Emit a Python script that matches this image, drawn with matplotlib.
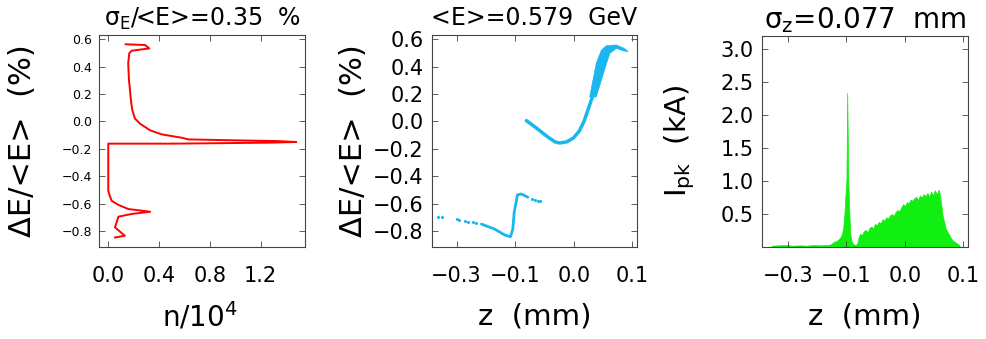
import matplotlib
matplotlib.use('Agg')
import matplotlib.pyplot as plt

plt.rcParams['mathtext.default'] = 'regular'

# energy spectrum (red): n/1e4 vs dE/<E> (%)
n_spec = [0.137, 0.289, 0.323, 0.184, 0.165, 0.157, 0.160, 0.163, 0.170, 0.176, 0.183, 0.19, 0.21,
          0.25, 0.33, 0.42, 0.58, 0.63, 1.0, 1.33, 1.48, 1.26, 0.51, 0.0, 0.0, 0.01, 0.027, 0.08,
          0.157, 0.33, 0.184, 0.08, 0.066, 0.053, 0.13, 0.053]
de_spec = [0.562, 0.557, 0.532, 0.515, 0.496, 0.423, 0.36, 0.30, 0.24, 0.178, 0.12, 0.08, 0.02,
           -0.017, -0.066, -0.095, -0.12, -0.132, -0.139, -0.144, -0.151, -0.156, -0.163, -0.163,
           -0.505, -0.54, -0.58, -0.61, -0.64, -0.66, -0.676, -0.696, -0.737, -0.774, -0.835, -0.848]

# longitudinal phase space (blue)
z_up = [-0.101, -0.085, -0.07, -0.055, -0.04, -0.03, -0.015, 0.0, 0.012, 0.022, 0.032, 0.040, 0.048]
de_up = [0.005, -0.035, -0.075, -0.115, -0.15, -0.158, -0.15, -0.12, -0.07, 0.0, 0.1, 0.18, 0.3]
z_band = [0.034, 0.041, 0.048, 0.059, 0.070, 0.091, 0.108, 0.116, 0.105, 0.091, 0.077, 0.070, 0.059, 0.048]
de_band = [0.178, 0.30, 0.423, 0.52, 0.552, 0.557, 0.532, 0.508, 0.515, 0.532, 0.496, 0.423, 0.30, 0.178]
z_low = [-0.197, -0.169, -0.147, -0.135, -0.13, -0.127, -0.12, -0.112, -0.098]
de_low = [-0.75, -0.786, -0.83, -0.842, -0.786, -0.664, -0.537, -0.53, -0.554]
z_dots = [-0.29, -0.282, -0.25, -0.245, -0.232, -0.226, -0.215, -0.208, -0.09, -0.083, -0.077, -0.073]
de_dots = [-0.70, -0.698, -0.712, -0.72, -0.728, -0.733, -0.735, -0.742, -0.565, -0.572, -0.578, -0.584]

# current profile (green)
z_cur = [-0.285, -0.27, -0.255, -0.24, -0.225, -0.21, -0.195, -0.18, -0.165, -0.158, -0.152, -0.146,
         -0.140, -0.136, -0.132, -0.129, -0.127, -0.125, -0.1235, -0.1225, -0.121, -0.119, -0.117,
         -0.114, -0.110, -0.106, -0.102, -0.099, -0.096, -0.092, -0.088, -0.084, -0.080, -0.076,
         -0.072, -0.068, -0.064, -0.060, -0.056, -0.052, -0.048, -0.044, -0.040, -0.036, -0.032,
         -0.028, -0.024, -0.020, -0.016, -0.012, -0.008, -0.004, 0.000, 0.004, 0.008, 0.012, 0.016,
         0.020, 0.024, 0.028, 0.032, 0.036, 0.040, 0.044, 0.048, 0.052, 0.056, 0.060, 0.064, 0.068,
         0.072, 0.075, 0.078, 0.081, 0.084, 0.087, 0.090, 0.094, 0.098, 0.102, 0.106, 0.110, 0.114, 0.117]
i_cur = [0.02, 0.025, 0.03, 0.02, 0.025, 0.02, 0.03, 0.025, 0.03, 0.04, 0.08, 0.09,
         0.13, 0.17, 0.28, 0.55, 0.80, 1.05, 2.34, 1.8, 0.95, 0.55, 0.20,
         0.08, 0.04, 0.03, 0.05, 0.15, 0.20, 0.18, 0.24, 0.26, 0.22, 0.29,
         0.31, 0.28, 0.35, 0.33, 0.38, 0.36, 0.42, 0.40, 0.45, 0.43, 0.48,
         0.50, 0.47, 0.53, 0.56, 0.54, 0.60, 0.65, 0.62, 0.68, 0.66, 0.72, 0.70,
         0.74, 0.76, 0.71, 0.78, 0.75, 0.80, 0.77, 0.82, 0.76, 0.84, 0.78, 0.86, 0.80,
         0.87, 0.78, 0.62, 0.45, 0.38, 0.28, 0.24, 0.19, 0.14, 0.10, 0.08, 0.06, 0.04, 0.02]

z_ticks = [-0.25, -0.125, 0.0, 0.125]
z_ticklabels = ['−0.3', '−0.1', '0.0', '0.1']

fig = plt.figure(figsize=(9.87, 3.39), dpi=100)
ax1 = fig.add_axes([0.1003, 0.2723, 0.2087, 0.6245])
ax2 = fig.add_axes([0.4374, 0.2723, 0.2080, 0.6245])
ax3 = fig.add_axes([0.7723, 0.2714, 0.2081, 0.6224])

blue = '#1ab6f0'

ax1.plot(n_spec, de_spec, color='red', lw=1.4)
ax1.set_xlim(-0.073, 1.549)
ax1.set_ylim(-0.915, 0.63)
ax1.set_xticks([0.0, 0.4, 0.8, 1.2])
ax1.set_yticks([-0.8, -0.6, -0.4, -0.2, 0.0, 0.2, 0.4, 0.6])
ax1.tick_params(axis='y', labelsize=9, pad=5)
ax1.tick_params(axis='x', labelsize=15, pad=14)

ax2.fill(z_band, de_band, color=blue, lw=0.5)
ax2.plot(z_up, de_up, color=blue, lw=2.5, solid_capstyle='round')
ax2.plot(z_low, de_low, color=blue, lw=2.0, solid_capstyle='round')
ax2.scatter(z_dots, de_dots, color=blue, s=1.5)
ax2.set_xlim(-0.303, 0.135)
ax2.set_ylim(-0.915, 0.63)
ax2.set_yticks([-0.8, -0.6, -0.4, -0.2, 0.0, 0.2, 0.4, 0.6])
ax2.tick_params(axis='y', labelsize=15, pad=6)

ax3.fill_between(z_cur, i_cur, 0, color='#11ee11', lw=0.5)
ax3.set_xlim(-0.305, 0.134)
ax3.set_ylim(0, 3.2)
ax3.set_yticks([0.5, 1.0, 1.5, 2.0, 2.5, 3.0])
ax3.tick_params(axis='y', labelsize=15, pad=6)

for ax in (ax2, ax3):
    ax.set_xticks(z_ticks)
    ax.set_xticklabels(z_ticklabels)
    ax.tick_params(axis='x', labelsize=15, pad=14)
    ax.set_xlabel('z  (mm)', fontsize=21, va='center')
    ax.xaxis.set_label_coords(0.5, -0.33)

for ax in (ax1, ax2, ax3):
    ax.tick_params(direction='in', top=True, right=True, length=4, width=0.6, color='#444444')
    for s in ax.spines.values():
        s.set_linewidth(0.8)
        s.set_color('#444444')

ax1.set_xlabel('n/10$^{4}$', fontsize=20, va='center')
ax1.xaxis.set_label_coords(0.49, -0.33)
ax1.set_ylabel('ΔE/<E>  (%)', fontsize=22, va='center')
ax1.yaxis.set_label_coords(-0.369, 0.5)
ax2.set_ylabel('ΔE/<E>  (%)', fontsize=22, va='center')
ax2.yaxis.set_label_coords(-0.383, 0.5)
ax3.set_ylabel('I$_{pk}$  (kA)', fontsize=21, va='center')
ax3.yaxis.set_label_coords(-0.40, 0.5)

ax1.set_title('σ$_{E}$/<E>=0.35  %', fontsize=17, y=1.075, va='center', pad=0)
ax2.set_title('<E>=0.579  GeV', fontsize=17, y=1.08, va='center', pad=0)
ax3.set_title('σ$_{z}$=0.077  mm', fontsize=20, y=1.075, va='center', pad=0)

fig.savefig('out.png', dpi=100)
